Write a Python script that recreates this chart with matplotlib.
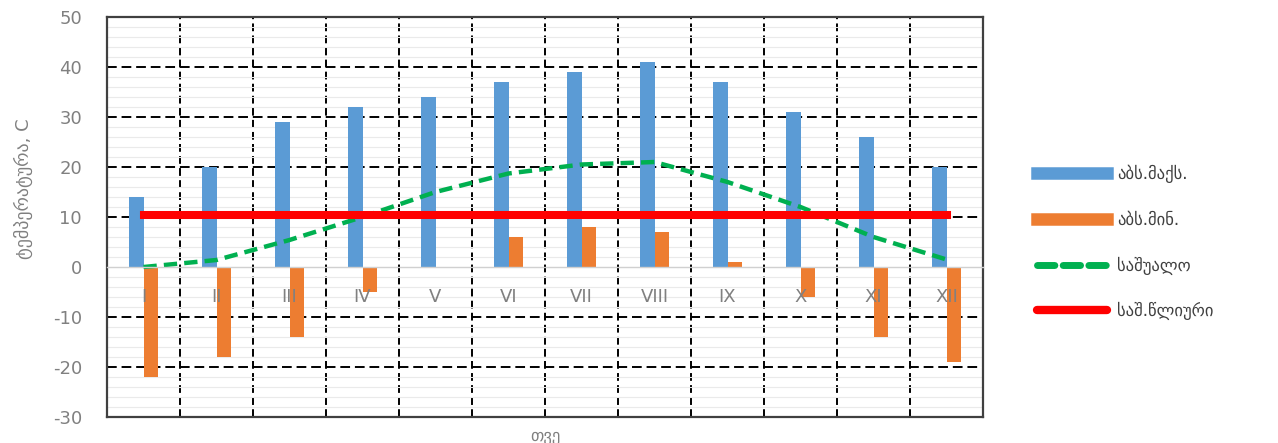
import numpy as np
import matplotlib.pyplot as plt
from matplotlib.lines import Line2D
from matplotlib.ticker import MultipleLocator

plt.rcParams['font.family'] = ['DejaVu Sans']
plt.rcParams['axes.unicode_minus'] = False

months = ['I', 'II', 'III', 'IV', 'V', 'VI', 'VII', 'VIII', 'IX', 'X', 'XI', 'XII']
abs_max = [14, 20, 29, 32, 34, 37, 39, 41, 37, 31, 26, 20]
abs_min = [-22, -18, -14, -5, 0, 6, 8, 7, 1, -6, -14, -19]
mean = [0, 1.4, 5.4, 10, 15, 18.7, 20.5, 21, 17, 12, 6, 1.5]
annual = [10.5] * 12

labels = ['აბს.მაქს.', 'აბს.მინ.', 'საშუალო', 'საშ.წლიური']
c_max, c_min, c_mean, c_ann = '#5B9BD5', '#ED7D31', '#00B050', '#FF0000'
gray = '#808080'

fig = plt.figure(figsize=(12.78, 4.43), dpi=100)
ax = fig.add_axes([107 / 1278, 1 - 417 / 443, (983 - 107) / 1278, 400 / 443])

x = np.arange(len(months))
w = 0.2
ax.bar(x - w / 2, abs_max, w, color=c_max, zorder=3)
ax.bar(x + w / 2, abs_min, w, color=c_min, zorder=3)
ax.plot(x, mean, color=c_mean, lw=3.2, ls=(0, (3, 1.6)), zorder=4)
ax.plot(x, annual, color=c_ann, lw=5.8, zorder=5)

ax.set_xlim(-0.5, len(months) - 0.5)
ax.set_ylim(-30, 50)

# gridlines
ax.yaxis.set_major_locator(MultipleLocator(10))
ax.yaxis.set_minor_locator(MultipleLocator(2))
ax.grid(which='minor', axis='y', color='#EAEAEA', lw=0.8, zorder=0)
for yv in [-20, -10, 10, 20, 30, 40]:
    ax.axhline(yv, color='black', lw=1.4, ls=(0, (5, 2.5)), zorder=1)
for xv in x[:-1] + 0.5:
    ax.axvline(xv, color='black', lw=1.4, ls=(0, (4, 2.2)), zorder=1)

ax.set_xticks([])
ax.tick_params(axis='y', which='both', length=0, labelsize=13, labelcolor=gray, pad=18)
for s in ax.spines.values():
    s.set_color('#404040')
    s.set_linewidth(1.6)

# category axis crossing at zero
sec = ax.secondary_xaxis(30 / 80)
sec.set_zorder(6)
sec.set_xticks(x)
sec.set_xticklabels(months)
sec.tick_params(length=0, labelsize=13, labelcolor=gray, pad=15)
sec.spines['bottom'].set_color('#D0D0D0')
sec.spines['bottom'].set_linewidth(1)

ax.set_ylabel('ტემპერატურა, C', fontsize=13, color=gray)
ax.yaxis.set_label_coords(-0.085, 0.57)
fig.text(545 / 1278, 1 - 427 / 443, 'თვე', ha='center', va='top', fontsize=12, color=gray)

handles = [
    Line2D([], [], color=c_max, lw=9),
    Line2D([], [], color=c_min, lw=9),
    Line2D([], [], color=c_mean, lw=5, ls=(0, (2.5, 1.2)), solid_capstyle='round', dash_capstyle='round'),
    Line2D([], [], color=c_ann, lw=6, solid_capstyle='round'),
]
fig.legend(handles, labels, loc='upper left', bbox_to_anchor=(1022 / 1278, 1 - 150 / 443),
           frameon=False, fontsize=12, handlelength=4.2, handletextpad=0.6,
           labelspacing=1.65, labelcolor='#404040')

fig.savefig('out.png', dpi=100)
